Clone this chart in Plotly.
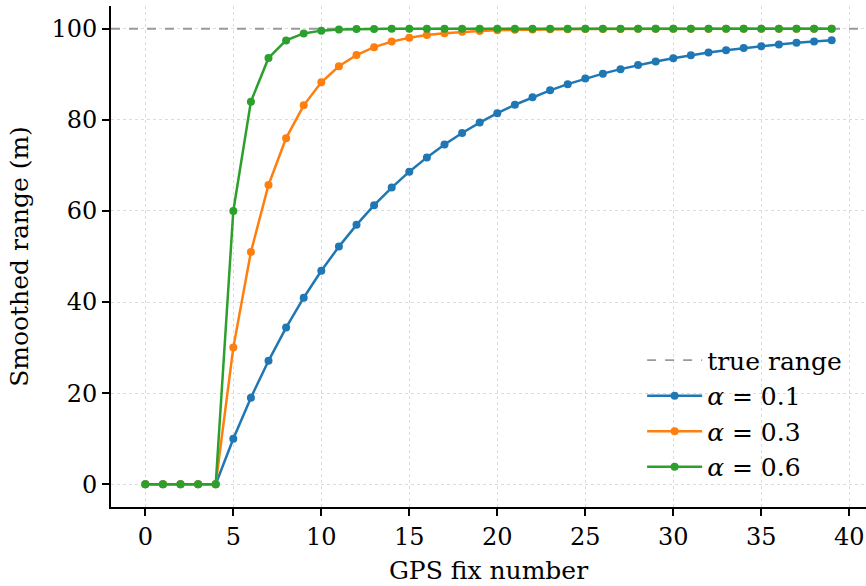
import plotly.graph_objects as go

fix = list(range(40))
true_range = 100
zeros = [0, 0, 0, 0, 0]
s01 = zeros + [10.0, 19.0, 27.1, 34.39, 40.95, 46.86, 52.17, 56.95, 61.26, 65.13,
               68.62, 71.76, 74.58, 77.12, 79.41, 81.47, 83.32, 84.99, 86.49, 87.84,
               89.06, 90.15, 91.14, 92.02, 92.82, 93.54, 94.18, 94.77, 95.29, 95.76,
               96.18, 96.57, 96.91, 97.22, 97.50]
s03 = zeros + [30.0, 51.0, 65.7, 75.99, 83.19, 88.24, 91.76, 94.24, 95.96, 97.18,
               98.02, 98.62, 99.03, 99.32, 99.53, 99.67, 99.77, 99.84, 99.89, 99.92,
               99.94, 99.96, 99.97, 99.98, 99.99, 99.99, 99.99, 100.0, 100.0, 100.0,
               100.0, 100.0, 100.0, 100.0, 100.0]
s06 = zeros + [60.0, 84.0, 93.6, 97.44, 98.98, 99.59, 99.84, 99.93, 99.97, 99.99,
               100.0, 100.0, 100.0, 100.0, 100.0, 100.0, 100.0, 100.0, 100.0, 100.0,
               100.0, 100.0, 100.0, 100.0, 100.0, 100.0, 100.0, 100.0, 100.0, 100.0,
               100.0, 100.0, 100.0, 100.0, 100.0]
names = ["<i>α</i> = 0.1", "<i>α</i> = 0.3", "<i>α</i> = 0.6"]
colors = ["#1f77b4", "#ff7f0e", "#2ca02c"]

font = "DejaVu Serif"
fs_tick = 24
fs_title = 25
fs_leg = 25
fig = go.Figure()
fig.add_trace(go.Scatter(x=[-1.95, 40.95], y=[true_range, true_range], mode="lines",
                         line=dict(color="#999999", width=1.8, dash="dash"),
                         name="true range"))
for s, n, c in zip([s01, s03, s06], names, colors):
    fig.add_trace(go.Scatter(x=fix, y=s, mode="lines+markers", name=n,
                             line=dict(color=c, width=2.5),
                             marker=dict(color=c, size=8)))

axis_common = dict(showline=True, linecolor="black", linewidth=1.6,
                   ticks="outside", ticklen=7, tickwidth=1.6, tickcolor="black",
                   showgrid=True, gridcolor="#dcdcdc", griddash="dot", gridwidth=1,
                   zeroline=False, mirror=False,
                   tickfont=dict(family=font, size=fs_tick, color="black"))
fig.update_layout(
    width=866, height=586,
    margin=dict(l=111, r=0, t=6, b=79),
    plot_bgcolor="white", paper_bgcolor="white",
    font=dict(family=font, size=fs_tick, color="black"),
    xaxis=dict(range=[-1.95, 40.95], tickvals=[0, 5, 10, 15, 20, 25, 30, 35, 40],
               title=dict(text="GPS fix number", font=dict(family=font, size=fs_title), standoff=12),
               **axis_common),
    yaxis=dict(range=[-5, 105], tickvals=[0, 20, 40, 60, 80, 100],
               title=dict(text="Smoothed range (m)", font=dict(family=font, size=fs_title), standoff=16),
               **axis_common),
    legend=dict(x=0.975, y=0.035, xanchor="right", yanchor="bottom",
                bgcolor="rgba(255,255,255,0)", font=dict(family=font, size=fs_leg),
                itemwidth=55, tracegroupgap=2),
    showlegend=True,
)
fig.write_html("out.html")
